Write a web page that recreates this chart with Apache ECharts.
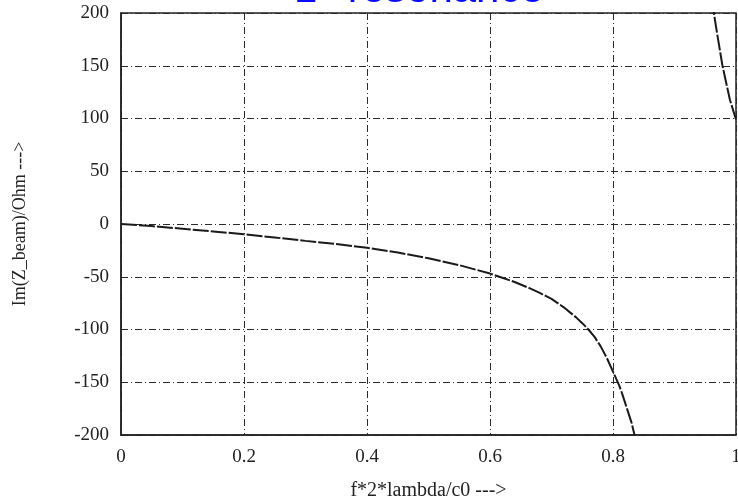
<!DOCTYPE html>
<html>
<head>
<meta charset="utf-8">
<script src="https://cdn.jsdelivr.net/npm/echarts@6/dist/echarts.min.js"></script>
<style>
  html, body { margin: 0; padding: 0; background: #fff; }
  #chart { width: 738px; height: 499px; }
</style>
</head>
<body>
<div id="chart"></div>
<script>
// Beam impedance (imaginary part) vs. normalised frequency
var lowerX = [0, 0.05, 0.1, 0.15, 0.2, 0.25, 0.3, 0.35, 0.4, 0.45, 0.5, 0.55, 0.6, 0.62,
              0.64, 0.665, 0.68, 0.7, 0.72, 0.74, 0.75, 0.76, 0.77, 0.78, 0.79, 0.8, 0.81,
              0.815, 0.82, 0.825, 0.83, 0.835, 0.84];
var lowerY = [0, -2, -4.5, -7, -9.8, -12.8, -16, -19, -22.5, -27, -32.5, -39, -47, -51,
              -55, -61, -65, -71, -79, -88.5, -94, -100, -107, -116, -127, -140, -153,
              -161, -170, -179, -188, -200, -212];
var upperX = [0.955, 0.964, 0.97, 0.978, 0.99, 1.0];
var upperY = [230, 200, 178, 150, 118, 99];
var xTicks = [0, 0.2, 0.4, 0.6, 0.8, 1];
var yTicks = [-200, -150, -100, -50, 0, 50, 100, 150, 200];

function pairs(xs, ys) {
  return xs.map(function (x, i) { return [x, ys[i]]; });
}

var serif = 'Liberation Serif';
var gridLine = { color: '#2a2a2a', width: 1, type: [7, 3, 1, 3] };
var curveStyle = { color: '#1a1a1a', width: 2, type: [16, 2] };

var chart = echarts.init(document.getElementById('chart'));
chart.setOption({
  animation: false,
  backgroundColor: '#fff',
  title: {
    text: '{a|1}{b|st}{a| resonance}',
    left: 289,
    top: -36,
    textStyle: {
      rich: {
        a: { fontFamily: 'Liberation Sans', fontSize: 42, fontWeight: 'normal', color: '#0a0aff' },
        b: { fontFamily: 'Liberation Sans', fontSize: 24, fontWeight: 'normal', color: '#0a0aff', verticalAlign: 'top' }
      }
    }
  },
  grid: {
    left: 121, right: 2, top: 13, bottom: 64,
    containLabel: false, outerBoundsMode: 'none',
    show: true, borderColor: '#222', borderWidth: 1.5
  },
  xAxis: {
    type: 'value', min: 0, max: 1, interval: 0.2,
    name: 'f*2*lambda/c0 --->', nameLocation: 'middle', nameGap: 46,
    nameTextStyle: { fontFamily: serif, fontSize: 20, color: '#222' },
    axisLine: { show: true, onZero: false, lineStyle: { color: '#222', width: 1.5 } },
    axisTick: { show: false },
    axisLabel: {
      margin: 13, fontFamily: serif, fontSize: 19, color: '#222',
      formatter: function (v) { return xTicks.indexOf(+v.toFixed(1)) >= 0 ? String(+v.toFixed(1)) : ''; }
    },
    splitLine: { show: true, lineStyle: gridLine }
  },
  yAxis: {
    type: 'value', min: -200, max: 200, interval: 50,
    name: 'Im(Z_beam)/Ohm --->', nameLocation: 'middle', nameGap: 92, nameRotate: 90,
    nameTextStyle: { fontFamily: serif, fontSize: 18, color: '#222' },
    axisLine: { show: true, lineStyle: { color: '#222', width: 1.5 } },
    axisTick: { show: false },
    axisLabel: {
      margin: 12, fontFamily: serif, fontSize: 19, color: '#222',
      formatter: function (v) { return yTicks.indexOf(v) >= 0 ? String(v) : ''; }
    },
    splitLine: { show: true, lineStyle: gridLine }
  },
  series: [
    {
      type: 'line', data: pairs(lowerX, lowerY), showSymbol: false, symbol: 'none',
      clip: true, lineStyle: curveStyle
    },
    {
      type: 'line', data: pairs(upperX, upperY), showSymbol: false, symbol: 'none',
      clip: true, lineStyle: curveStyle
    }
  ]
});
</script>
</body>
</html>
